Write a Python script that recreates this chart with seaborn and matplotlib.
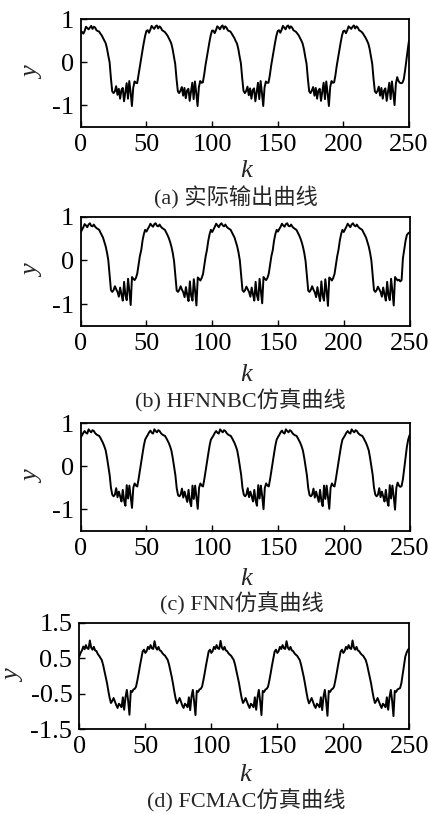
import matplotlib
matplotlib.use("Agg")
import matplotlib.pyplot as plt
import seaborn as sns
import pandas as pd

# ---------------- data ----------------
k_values = list(range(251))

y_actual = (
    [0.72, 0.70, 0.66, 0.72, 0.82, 0.79, 0.76, 0.80, 0.84, 0.77, 0.82, 0.80, 0.74, 0.72, 0.71, 0.66, 0.62, 0.56, 0.50, 0.44,
     0.32, 0.15, 0.00, -0.37, -0.68, -0.72, -0.68, -0.56, -0.76, -0.62, -0.85, -0.65, -0.60, -0.91, -0.70, -0.49, -0.85, -0.44, -0.70, -1.02,
     -0.60, -0.45, -0.48, -0.49, -0.30, -0.10, 0.08, 0.26, 0.44, 0.60]
    + [0.72, 0.74, 0.68, 0.75, 0.84, 0.80, 0.77, 0.83, 0.85, 0.78, 0.83, 0.80, 0.74, 0.72, 0.70, 0.66, 0.62, 0.56, 0.50, 0.43,
       0.30, 0.12, -0.05, -0.40, -0.68, -0.72, -0.66, -0.58, -0.78, -0.60, -0.84, -0.66, -0.62, -0.90, -0.68, -0.48, -0.86, -0.45, -0.72, -1.02,
       -0.58, -0.44, -0.48, -0.47, -0.30, -0.08, 0.10, 0.28, 0.46, 0.62]
    + [0.73, 0.73, 0.67, 0.74, 0.83, 0.80, 0.76, 0.82, 0.85, 0.77, 0.83, 0.80, 0.74, 0.72, 0.71, 0.66, 0.61, 0.56, 0.49, 0.43,
       0.31, 0.13, -0.03, -0.38, -0.67, -0.72, -0.67, -0.57, -0.77, -0.61, -0.85, -0.65, -0.61, -0.91, -0.69, -0.48, -0.86, -0.44, -0.71, -1.02,
       -0.59, -0.45, -0.48, -0.48, -0.31, -0.09, 0.09, 0.27, 0.45, 0.61]
    + [0.72, 0.74, 0.68, 0.75, 0.84, 0.80, 0.76, 0.83, 0.85, 0.78, 0.83, 0.80, 0.74, 0.72, 0.70, 0.66, 0.62, 0.56, 0.50, 0.43,
       0.30, 0.12, -0.04, -0.39, -0.68, -0.72, -0.66, -0.58, -0.78, -0.60, -0.85, -0.66, -0.62, -0.90, -0.68, -0.48, -0.86, -0.45, -0.72, -1.02,
       -0.58, -0.44, -0.48, -0.47, -0.30, -0.08, 0.10, 0.28, 0.46, 0.62]
    + [0.72, 0.73, 0.67, 0.74, 0.83, 0.80, 0.77, 0.82, 0.85, 0.78, 0.83, 0.80, 0.74, 0.72, 0.70, 0.66, 0.61, 0.56, 0.50, 0.43,
       0.31, 0.13, -0.04, -0.39, -0.68, -0.72, -0.67, -0.57, -0.78, -0.60, -0.85, -0.66, -0.61, -0.90, -0.69, -0.48, -0.86, -0.45, -0.71, -1.00,
       -0.50, -0.35, -0.44, -0.48, -0.49, -0.48, -0.40, -0.20, 0.05, 0.28]
    + [0.50]
)

y_hfnnbc = (
    [0.64, 0.70, 0.76, 0.83, 0.80, 0.76, 0.82, 0.85, 0.79, 0.78, 0.82, 0.77, 0.74, 0.72, 0.70, 0.64, 0.58, 0.52, 0.42, 0.32,
     0.18, 0.00, -0.35, -0.68, -0.72, -0.68, -0.59, -0.66, -0.72, -0.83, -0.62, -0.78, -0.92, -0.49, -0.80, -0.91, -0.42, -0.70, -1.02, -0.38,
     -0.42, -0.45, -0.40, -0.30, -0.10, 0.10, 0.23, 0.45, 0.60, 0.70]
    + [0.66, 0.72, 0.77, 0.84, 0.80, 0.77, 0.83, 0.85, 0.79, 0.78, 0.82, 0.77, 0.74, 0.72, 0.70, 0.64, 0.58, 0.51, 0.42, 0.31,
       0.17, -0.02, -0.36, -0.69, -0.72, -0.67, -0.59, -0.67, -0.73, -0.84, -0.61, -0.79, -0.93, -0.48, -0.81, -0.92, -0.43, -0.71, -1.03, -0.39,
       -0.42, -0.46, -0.40, -0.31, -0.11, 0.09, 0.24, 0.45, 0.60, 0.70]
    + [0.65, 0.71, 0.77, 0.84, 0.80, 0.76, 0.82, 0.85, 0.80, 0.78, 0.82, 0.77, 0.74, 0.72, 0.70, 0.64, 0.58, 0.52, 0.42, 0.32,
       0.18, 0.00, -0.35, -0.68, -0.72, -0.68, -0.60, -0.66, -0.72, -0.83, -0.62, -0.78, -0.92, -0.49, -0.80, -0.91, -0.42, -0.70, -0.98, -0.38,
       -0.42, -0.45, -0.40, -0.30, -0.10, 0.10, 0.23, 0.45, 0.60, 0.70]
    + [0.66, 0.72, 0.77, 0.84, 0.80, 0.77, 0.83, 0.85, 0.79, 0.78, 0.82, 0.77, 0.74, 0.72, 0.70, 0.64, 0.58, 0.51, 0.42, 0.31,
       0.17, -0.02, -0.36, -0.69, -0.72, -0.67, -0.59, -0.67, -0.73, -0.84, -0.61, -0.79, -0.93, -0.48, -0.81, -0.92, -0.43, -0.71, -1.04, -0.39,
       -0.42, -0.46, -0.40, -0.31, -0.11, 0.09, 0.24, 0.45, 0.60, 0.70]
    + [0.65, 0.71, 0.77, 0.84, 0.80, 0.76, 0.82, 0.85, 0.80, 0.78, 0.82, 0.77, 0.74, 0.72, 0.70, 0.64, 0.58, 0.52, 0.42, 0.32,
       0.18, 0.00, -0.35, -0.68, -0.72, -0.68, -0.60, -0.66, -0.72, -0.83, -0.62, -0.78, -0.92, -0.49, -0.80, -0.91, -0.42, -0.70, -1.03, -0.38,
       -0.42, -0.46, -0.44, -0.48, -0.45, 0.05, 0.25, 0.45, 0.58, 0.62]
    + [0.64]
)

y_fnn = (
    [0.67, 0.72, 0.78, 0.82, 0.78, 0.76, 0.86, 0.82, 0.79, 0.84, 0.82, 0.77, 0.74, 0.72, 0.71, 0.66, 0.60, 0.54, 0.46, 0.37,
     0.20, 0.00, -0.20, -0.50, -0.66, -0.70, -0.66, -0.51, -0.72, -0.59, -0.70, -0.82, -0.55, -0.80, -0.92, -0.44, -0.75, -0.45, -0.70, -0.97,
     -0.50, -0.40, -0.45, -0.47, -0.30, -0.10, 0.10, 0.29, 0.48, 0.62]
    + [0.68, 0.73, 0.79, 0.83, 0.78, 0.76, 0.86, 0.82, 0.79, 0.84, 0.82, 0.77, 0.74, 0.72, 0.71, 0.66, 0.60, 0.54, 0.46, 0.36,
       0.19, -0.01, -0.21, -0.51, -0.67, -0.70, -0.66, -0.52, -0.73, -0.59, -0.71, -0.83, -0.55, -0.81, -0.93, -0.45, -0.76, -0.45, -0.71, -0.99,
       -0.50, -0.40, -0.45, -0.47, -0.30, -0.10, 0.10, 0.29, 0.48, 0.62]
    + [0.67, 0.72, 0.78, 0.82, 0.78, 0.76, 0.86, 0.82, 0.79, 0.84, 0.82, 0.77, 0.74, 0.72, 0.71, 0.66, 0.60, 0.54, 0.46, 0.37,
       0.20, 0.00, -0.20, -0.50, -0.66, -0.70, -0.66, -0.51, -0.72, -0.59, -0.70, -0.82, -0.55, -0.80, -0.92, -0.44, -0.75, -0.45, -0.70, -1.00,
       -0.50, -0.40, -0.45, -0.47, -0.30, -0.10, 0.10, 0.29, 0.48, 0.62]
    + [0.68, 0.73, 0.79, 0.83, 0.78, 0.76, 0.86, 0.82, 0.79, 0.84, 0.82, 0.77, 0.74, 0.72, 0.71, 0.66, 0.60, 0.54, 0.46, 0.36,
       0.19, -0.01, -0.21, -0.51, -0.67, -0.70, -0.66, -0.52, -0.73, -0.59, -0.71, -0.83, -0.55, -0.81, -0.93, -0.45, -0.76, -0.45, -0.71, -0.99,
       -0.50, -0.40, -0.45, -0.47, -0.30, -0.10, 0.10, 0.29, 0.48, 0.62]
    + [0.67, 0.72, 0.78, 0.82, 0.78, 0.76, 0.86, 0.82, 0.79, 0.84, 0.82, 0.77, 0.74, 0.72, 0.71, 0.66, 0.60, 0.54, 0.46, 0.37,
       0.20, 0.00, -0.20, -0.50, -0.66, -0.70, -0.66, -0.51, -0.72, -0.59, -0.70, -0.82, -0.55, -0.80, -0.92, -0.44, -0.75, -0.45, -0.70, -1.01,
       -0.50, -0.38, -0.45, -0.48, -0.46, -0.30, -0.05, 0.20, 0.45, 0.62]
    + [0.72]
)

y_fcmac = (
    [0.55, 0.65, 0.72, 0.83, 0.75, 0.87, 0.78, 0.76, 1.00, 0.80, 0.74, 0.82, 0.72, 0.70, 0.62, 0.57, 0.51, 0.45, 0.32, 0.15,
     -0.02, -0.20, -0.42, -0.62, -0.76, -0.70, -0.62, -0.72, -0.82, -0.90, -0.78, -0.82, -0.88, -0.60, -0.95, -0.60, -0.39, -0.70, -1.09, -0.42,
     -0.45, -0.38, -0.36, -0.30, -0.12, 0.08, 0.30, 0.50, 0.69, 0.74]
    + [0.65, 0.70, 0.82, 0.76, 0.87, 0.78, 0.76, 0.98, 0.80, 0.74, 0.82, 0.72, 0.70, 0.64, 0.60, 0.57, 0.51, 0.45, 0.32, 0.15,
       -0.02, -0.22, -0.44, -0.64, -0.77, -0.70, -0.62, -0.72, -0.83, -0.90, -0.78, -0.82, -0.88, -0.60, -0.96, -0.58, -0.39, -0.72, -1.10, -0.42,
       -0.45, -0.38, -0.36, -0.30, -0.12, 0.08, 0.30, 0.50, 0.69, 0.74]
    + [0.65, 0.70, 0.82, 0.76, 0.87, 0.78, 0.76, 0.99, 0.80, 0.74, 0.82, 0.72, 0.70, 0.64, 0.60, 0.57, 0.51, 0.45, 0.32, 0.15,
       -0.02, -0.20, -0.42, -0.62, -0.76, -0.70, -0.62, -0.72, -0.82, -0.90, -0.78, -0.82, -0.88, -0.60, -0.95, -0.60, -0.39, -0.70, -1.10, -0.42,
       -0.45, -0.38, -0.36, -0.30, -0.12, 0.08, 0.30, 0.50, 0.69, 0.74]
    + [0.65, 0.70, 0.82, 0.76, 0.87, 0.78, 0.76, 0.98, 0.80, 0.74, 0.82, 0.72, 0.70, 0.64, 0.60, 0.57, 0.51, 0.45, 0.32, 0.15,
       -0.02, -0.22, -0.44, -0.64, -0.77, -0.70, -0.62, -0.72, -0.83, -0.90, -0.78, -0.82, -0.88, -0.60, -0.96, -0.58, -0.39, -0.72, -1.12, -0.42,
       -0.45, -0.38, -0.36, -0.30, -0.12, 0.08, 0.30, 0.50, 0.69, 0.74]
    + [0.65, 0.70, 0.82, 0.76, 0.87, 0.78, 0.76, 1.00, 0.80, 0.74, 0.82, 0.72, 0.70, 0.64, 0.60, 0.57, 0.51, 0.45, 0.32, 0.15,
       -0.02, -0.20, -0.42, -0.62, -0.76, -0.70, -0.62, -0.72, -0.82, -0.90, -0.78, -0.82, -0.88, -0.60, -0.95, -0.60, -0.39, -0.70, -1.13, -0.42,
       -0.45, -0.38, -0.36, -0.34, -0.20, 0.04, 0.30, 0.55, 0.66, 0.74]
    + [0.78]
)

captions = ["(a) 实际输出曲线", "(b) HFNNBC仿真曲线", "(c) FNN仿真曲线", "(d) FCMAC仿真曲线"]
x_ticks = [0, 50, 100, 150, 200, 250]
y_ticks_abc = [-1, 0, 1]
y_ticks_d = [-1.5, -0.5, 0.5, 1.5]
y_ticklabels_d = ["-1.5", "-0.5", "0.5", "1.5"]

# ---------------- style ----------------
sns.set_theme(style="ticks")
plt.rcParams["font.family"] = ["Liberation Serif", "Noto Sans CJK SC"]
plt.rcParams["axes.unicode_minus"] = False

W, H = 429, 814
fig = plt.figure(figsize=(W / 100, H / 100), dpi=100)

# axes boxes in pixels: (left, top, right, bottom)
boxes = [(80.7, 19.0, 409.0, 126.7),
         (80.7, 216.7, 409.5, 326.0),
         (80.7, 423.3, 409.5, 530.7),
         (79.3, 622.7, 409.3, 729.3)]
k_label_y = [171, 375, 579, 775]
cap_y = [198, 401, 604, 801]
cap_x = [236, 240, 242, 246]
ylab_x = [33, 33, 33, 14]

series = [y_actual, y_hfnnbc, y_fnn, y_fcmac]

for i, (ys, box) in enumerate(zip(series, boxes)):
    l, t, r, b = box
    ax = fig.add_axes([l / W, 1 - b / H, (r - l) / W, (b - t) / H])
    df = pd.DataFrame({"k": k_values, "y": ys})
    sns.lineplot(data=df, x="k", y="y", ax=ax, color="black", linewidth=1.4)
    ax.set_xlim(0, 250)
    ax.set_xticks(x_ticks)
    if i < 3:
        ax.set_ylim(-1.5, 1)
        ax.set_yticks(y_ticks_abc)
        ax.set_yticklabels([str(v) for v in y_ticks_abc])
    else:
        ax.set_ylim(-1.5, 1.5)
        ax.set_yticks(y_ticks_d)
        ax.set_yticklabels(y_ticklabels_d)
    ax.set_xlabel("")
    ax.set_ylabel("")
    for sp in ax.spines.values():
        sp.set_visible(True)
        sp.set_linewidth(1.3)
        sp.set_color("black")
    ax.tick_params(direction="in", length=4, width=1.0, labelsize=19, colors="black",
                   top=False, right=False, pad=5)
    for lab in ax.get_xticklabels() + ax.get_yticklabels():
        lab.set_fontfamily("Liberation Serif")
    ax.grid(False)
    ax.set_facecolor("white")

    cy = 1 - ((t + b) / 2) / H
    fig.text(ylab_x[i] / W, cy, "y", fontsize=19, style="italic", rotation=90,
             ha="center", va="center", family="Liberation Serif")
    fig.text(((l + r) / 2 + 1) / W, 1 - k_label_y[i] / H, "k", fontsize=19, style="italic",
             ha="center", va="center", family="Liberation Serif")
    fig.text(cap_x[i] / W, 1 - cap_y[i] / H, captions[i], fontsize=16,
             ha="center", va="center", family=["Liberation Serif", "Noto Sans CJK SC"])

fig.savefig("out.png", dpi=100, facecolor="white")
